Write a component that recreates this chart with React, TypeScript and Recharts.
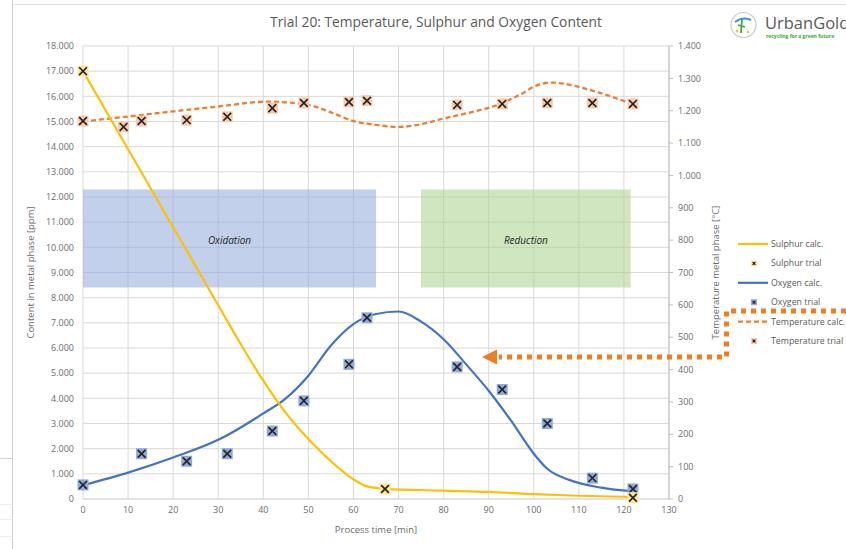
import React from "react";
import {
  ComposedChart,
  Line,
  Scatter,
  XAxis,
  YAxis,
  CartesianGrid,
  ReferenceArea,
  Label,
} from "recharts";

// axis ticks
const timeTicks = [0, 10, 20, 30, 40, 50, 60, 70, 80, 90, 100, 110, 120, 130];
const ppmTicks = [
  0, 1000, 2000, 3000, 4000, 5000, 6000, 7000, 8000, 9000, 10000, 11000,
  12000, 13000, 14000, 15000, 16000, 17000, 18000,
];
const tempTicks = [
  0, 100, 200, 300, 400, 500, 600, 700, 800, 900, 1000, 1100, 1200, 1300, 1400,
];

// sulphur [ppm]
const sulphurCalcTime = [0, 10, 20, 30, 35, 40, 45, 50, 55, 60, 63, 67, 80, 90, 100, 110, 122];
const sulphurCalcPpm = [17000, 13900, 10800, 7700, 6150, 4700, 3420, 2380, 1500, 780, 500, 400, 330, 280, 190, 130, 80];
const sulphurTrialTime = [0, 67, 122];
const sulphurTrialPpm = [17000, 400, 50];

// oxygen [ppm]
const oxygenCalcTime = [0, 10, 20, 30, 40, 45, 50, 55, 60, 65, 70, 75, 80, 85, 90, 95, 100, 103, 108, 115, 122];
const oxygenCalcPpm = [550, 1050, 1650, 2350, 3400, 4000, 4900, 6100, 6950, 7350, 7450, 7050, 6350, 5350, 4300, 3100, 1800, 1200, 750, 450, 300];
const oxygenTrialTime = [0, 13, 23, 32, 42, 49, 59, 63, 83, 93, 103, 113, 122];
const oxygenTrialPpm = [560, 1800, 1500, 1800, 2700, 3900, 5350, 7200, 5250, 4350, 3000, 830, 400];

// temperature [°C]
const tempCalcTime = [0, 10, 20, 30, 41, 46, 51, 55, 60, 65, 70, 75, 80, 86, 92, 97, 101, 104, 108, 113, 122];
const tempCalcC = [1167, 1182, 1198, 1213, 1228, 1225, 1215, 1195, 1168, 1156, 1150, 1158, 1176, 1195, 1218, 1250, 1280, 1287, 1280, 1262, 1220];
const tempTrialTime = [0, 9, 13, 23, 32, 42, 49, 59, 63, 83, 93, 103, 113, 122];
const tempTrialC = [1168, 1150, 1168, 1171, 1181, 1208, 1224, 1227, 1231, 1218, 1221, 1224, 1224, 1221];

// process phases
const phaseNames = ["Oxidation", "Reduction"];
const phaseStart = [0, 75];
const phaseEnd = [65, 121.5];
const phaseLow = [8400, 8400];
const phaseHigh = [12300, 12300];

const toPoints = (ts: number[], vs: number[]) => ts.map((t, i) => ({ t, v: vs[i] }));

const fmtDe = (v: number) =>
  v >= 1000 ? `${Math.floor(v / 1000)}.${String(v % 1000).padStart(3, "0")}` : String(v);

const FONT = "'Open Sans', 'Noto Sans', sans-serif";
const GREY = "#6b6b6b";

function TrialMark(props: any) {
  const { cx, cy, fill, size = 11 } = props;
  if (cx == null || cy == null) return null;
  const h = size / 2;
  const c = h - 1.6;
  return (
    <g>
      <rect x={cx - h} y={cy - h} width={size} height={size} fill={fill} />
      <path
        d={`M${cx - c},${cy - c}L${cx + c},${cy + c}M${cx + c},${cy - c}L${cx - c},${cy + c}`}
        stroke="#262626"
        strokeWidth={size > 8 ? 1.7 : 1.2}
      />
    </g>
  );
}

const legendItems = [
  { name: "Sulphur calc.", kind: "line", color: "#FFC000" },
  { name: "Sulphur trial", kind: "mark", color: "#FFE699" },
  { name: "Oxygen calc.", kind: "line", color: "#4472C4" },
  { name: "Oxygen trial", kind: "mark", color: "#8FAADC" },
  { name: "Temperature calc.", kind: "dash", color: "#ED7D31" },
  { name: "Temperature trial", kind: "mark", color: "#F8CBAD" },
];

function Overlay() {
  return (
    <svg
      width={846}
      height={549}
      style={{ position: "absolute", left: 0, top: 0, pointerEvents: "none" }}
    >
      {/* sheet frame */}
      <line x1={12.5} y1={0} x2={12.5} y2={549} stroke="#d0d0d0" />
      <line x1={12.5} y1={4.5} x2={846} y2={4.5} stroke="#e0e0e0" />
      <line x1={0} y1={458.5} x2={12.5} y2={458.5} stroke="#d0d0d0" />
      <line x1={0} y1={504.5} x2={12.5} y2={504.5} stroke="#ececec" />
      <line x1={0} y1={519.5} x2={12.5} y2={519.5} stroke="#ececec" />
      <line x1={0} y1={536.5} x2={12.5} y2={536.5} stroke="#ececec" />

      {/* title */}
      <text x={436} y={27} textAnchor="middle" fontSize={13.8} fill="#595959" fontFamily={FONT}>
        Trial 20: Temperature, Sulphur and Oxygen Content
      </text>

      {/* logo */}
      <circle cx={743.5} cy={25} r={12.5} fill="#fff" stroke="#c8c8c8" strokeWidth={1.2} />
      <path d="M735,22 Q743,16 751,20" stroke="#3b8fd6" strokeWidth={2} fill="none" />
      <path d="M742,20 L741,33 M738,25 L745,27" stroke="#3aa935" strokeWidth={1.8} fill="none" />
      <circle cx={737} cy={31} r={1.4} fill="#e8c13a" />
      <circle cx={748} cy={32} r={1.2} fill="#e8c13a" />
      <text x={765} y={28.5} fontSize={16.5} fill="#595959" fontFamily={FONT}>
        UrbanGold
      </text>
      <text x={766} y={37.5} fontSize={5} fill="#3aa935" fontWeight={700} fontFamily={FONT}>
        recycling for a green future
      </text>

      {/* legend */}
      {legendItems.map((it, i) => {
        const y = 244 + i * 19.4;
        return (
          <g key={it.name}>
            {it.kind === "line" && (
              <line x1={738} y1={y} x2={768} y2={y} stroke={it.color} strokeWidth={2.2} />
            )}
            {it.kind === "dash" && (
              <line
                x1={738}
                y1={y}
                x2={768}
                y2={y}
                stroke={it.color}
                strokeWidth={2.2}
                strokeDasharray="5 3"
              />
            )}
            {it.kind === "mark" && <TrialMark cx={754} cy={y} fill={it.color} size={6} />}
            <text x={771} y={y + 3} fontSize={8.8} fill="#595959" fontFamily={FONT}>
              {it.name}
            </text>
          </g>
        );
      })}

      {/* annotation arrow */}
      <path
        d="M846,311 L726.5,311 L726.5,357 L499,357"
        stroke="#EF7D22"
        strokeWidth={5}
        strokeDasharray="5 5"
        fill="none"
      />
      <polygon points="482,357 497,349.5 497,364.5" fill="#EF7D22" />
    </svg>
  );
}

export default function App() {
  const sulphurCalc = toPoints(sulphurCalcTime, sulphurCalcPpm);
  const sulphurTrial = toPoints(sulphurTrialTime, sulphurTrialPpm);
  const oxygenCalc = toPoints(oxygenCalcTime, oxygenCalcPpm);
  const oxygenTrial = toPoints(oxygenTrialTime, oxygenTrialPpm);
  const tempCalc = toPoints(tempCalcTime, tempCalcC);
  const tempTrial = toPoints(tempTrialTime, tempTrialC);

  const tickStyle = { fill: GREY, fontSize: 9, fontFamily: FONT };

  return (
    <div
      style={{
        position: "fixed",
        left: 0,
        top: 0,
        width: 846,
        height: 549,
        background: "#fff",
        fontFamily: FONT,
        overflow: "hidden",
      }}
    >
      <div style={{ position: "absolute", left: 0, top: 0 }}>
        <ComposedChart width={846} height={549} margin={{ top: 46, right: 117, bottom: 10, left: 13 }}>
          <CartesianGrid yAxisId="left" stroke="#d9d9d9" />
          {phaseNames.map((n, i) => (
            <ReferenceArea
              key={n}
              yAxisId="left"
              x1={phaseStart[i]}
              x2={phaseEnd[i]}
              y1={phaseLow[i]}
              y2={phaseHigh[i]}
              fill={i === 0 ? "#8FAADC" : "#A9D18E"}
              fillOpacity={0.55}
              stroke="none"
              ifOverflow="visible"
            >
              <Label
                value={n}
                position="center"
                fill="#262626"
                fontSize={10}
                fontStyle="italic"
                fontFamily={FONT}
                dy={2}
              />
            </ReferenceArea>
          ))}
          <XAxis
            type="number"
            dataKey="t"
            domain={[0, 130]}
            ticks={timeTicks}
            interval={0}
            height={40}
            tickLine={false}
            tickSize={4}
            tickMargin={4}
            axisLine={{ stroke: "#d9d9d9" }}
            tick={tickStyle}
          >
            <Label
              value="Process time [min]"
              position="insideBottom"
              offset={6}
              fill={GREY}
              fontSize={9.5}
              fontFamily={FONT}
            />
          </XAxis>
          <YAxis
            yAxisId="left"
            type="number"
            domain={[0, 18000]}
            ticks={ppmTicks}
            interval={0}
            width={70}
            axisLine={false}
            tickLine={false}
            tickSize={4}
            tickMargin={5}
            tick={tickStyle}
            tickFormatter={fmtDe}
          >
            <Label
              value="Content in metal phase [ppm]"
              angle={-90}
              position="insideLeft"
              offset={18}
              fill={GREY}
              fontSize={9.5}
              fontFamily={FONT}
              style={{ textAnchor: "middle" }}
            />
          </YAxis>
          <YAxis
            yAxisId="right"
            orientation="right"
            type="number"
            domain={[0, 1400]}
            ticks={tempTicks}
            interval={0}
            width={60}
            axisLine={{ stroke: "#bfbfbf" }}
            tickLine={{ stroke: "#bfbfbf" }}
            tickSize={4}
            tickMargin={5}
            tick={tickStyle}
            tickFormatter={fmtDe}
          >
            <Label
              value="Temperature metal phase [°C]"
              angle={-90}
              position="insideRight"
              offset={13}
              fill={GREY}
              fontSize={9.5}
              fontFamily={FONT}
              style={{ textAnchor: "middle" }}
            />
          </YAxis>

          <Line
            yAxisId="right"
            data={tempCalc}
            dataKey="v"
            type="monotone"
            stroke="#ED7D31"
            strokeWidth={2.3}
            strokeDasharray="5 3"
            dot={false}
            activeDot={false}
            isAnimationActive={false}
          />
          <Line
            yAxisId="left"
            data={oxygenCalc}
            dataKey="v"
            type="monotone"
            stroke="#4472C4"
            strokeWidth={2.2}
            dot={false}
            activeDot={false}
            isAnimationActive={false}
          />
          <Line
            yAxisId="left"
            data={sulphurCalc}
            dataKey="v"
            type="monotone"
            stroke="#FFC000"
            strokeWidth={2.2}
            dot={false}
            activeDot={false}
            isAnimationActive={false}
          />
          <Scatter
            yAxisId="right"
            data={tempTrial}
            dataKey="v"
            isAnimationActive={false}
            shape={(p: any) => <TrialMark cx={p.cx} cy={p.cy} fill="#F8CBAD" />}
          />
          <Scatter
            yAxisId="left"
            data={oxygenTrial}
            dataKey="v"
            isAnimationActive={false}
            shape={(p: any) => <TrialMark cx={p.cx} cy={p.cy} fill="#8FAADC" />}
          />
          <Scatter
            yAxisId="left"
            data={sulphurTrial}
            dataKey="v"
            isAnimationActive={false}
            shape={(p: any) => <TrialMark cx={p.cx} cy={p.cy} fill="#FFE699" />}
          />
        </ComposedChart>
      </div>
      <Overlay />
    </div>
  );
}
